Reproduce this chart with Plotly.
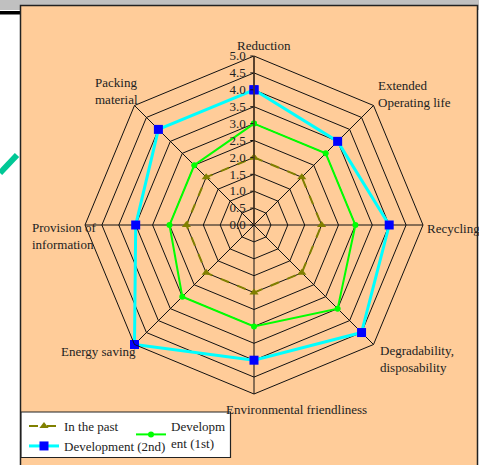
import plotly.graph_objects as go

W, H = 479, 465

categories = ["Reduction", "Extended Operating life", "Recycling",
              "Degradability, disposability", "Environmental friendliness",
              "Energy saving", "Provision of information", "Packing material"]
label_text = ["Reduction", "Extended<br>Operating life", "Recycling",
              "Degradability,<br>disposability", "Environmental friendliness",
              "Energy saving", "Provision of<br>information", "Packing<br>material"]
past = [2.0, 2.0, 2.0, 2.0, 2.0, 2.0, 2.0, 2.0]
dev1 = [3.0, 3.0, 3.0, 3.5, 3.0, 3.0, 2.5, 2.5]
dev2 = [4.0, 3.5, 4.0, 4.5, 4.0, 5.0, 3.5, 4.0]
radial_ticks = [0.0, 0.5, 1.0, 1.5, 2.0, 2.5, 3.0, 3.5, 4.0, 4.5, 5.0]

FONT = "Liberation Serif"


def px(x):
    return x / W


def py(y):
    return 1 - y / H


def closed(v):
    return list(v) + [v[0]]


theta = closed(categories)

fig = go.Figure()
fig.add_trace(go.Scatterpolar(
    r=closed(past), theta=theta, name="In the past", mode="lines+markers",
    line=dict(color="#808000", width=2, dash="dash"),
    marker=dict(symbol="triangle-up", size=8, color="#808000"),
    legend="legend"))
fig.add_trace(go.Scatterpolar(
    r=closed(dev1), theta=theta, name="Developm<br>ent (1st)", mode="lines+markers",
    line=dict(color="#00ff00", width=2),
    marker=dict(symbol="circle", size=6, color="#00ff00"),
    legend="legend"))
fig.add_trace(go.Scatterpolar(
    r=closed(dev2), theta=theta, name="Development (2nd)", mode="lines+markers",
    line=dict(color="#00ffff", width=3),
    marker=dict(symbol="square", size=9, color="#0000ff"),
    legend="legend2"))

cx, cy, R = 254, 225, 169

shapes = [
    dict(type="rect", xref="paper", yref="paper", x0=0, x1=1, y0=py(10), y1=1,
         fillcolor="#c0c0c0", line=dict(width=0), layer="below"),
    dict(type="rect", xref="paper", yref="paper", x0=0, x1=px(21), y0=py(14.5), y1=py(11),
         fillcolor="#000000", line=dict(width=0), layer="below"),
    dict(type="rect", xref="paper", yref="paper", x0=px(20.5), x1=px(477.5), y0=py(470), y1=py(5.5),
         fillcolor="#ffcc99", line=dict(color="#222222", width=1.5), layer="below"),
    dict(type="line", xref="paper", yref="paper", x0=px(0), y0=py(173), x1=px(17), y1=py(155),
         line=dict(color="#00c896", width=6), layer="below"),
    dict(type="rect", xref="paper", yref="paper", x0=px(21), x1=px(230.5), y0=py(457.5), y1=py(412),
         fillcolor="#ffffff", line=dict(color="#222222", width=1.2), layer="above"),
]

ann_specs = [
    (263.5, 46, "center", "middle", "center"),
    (376, 94, "left", "middle", "left"),
    (425, 229, "left", "middle", "left"),
    (378, 359, "left", "middle", "left"),
    (296, 409, "center", "middle", "center"),
    (137.5, 351, "right", "middle", "right"),
    (30, 236, "left", "middle", "left"),
    (93, 91, "left", "middle", "left"),
]
annotations = []
for txt, (x, y, xa, ya, al) in zip(label_text, ann_specs):
    annotations.append(dict(text=txt, x=px(x), y=py(y), xref="paper", yref="paper",
                            xanchor=xa, yanchor=ya, align=al, showarrow=False,
                            font=dict(family=FONT, size=13, color="#222222")))

fig.update_layout(
    width=W, height=H,
    margin=dict(l=0, r=0, t=0, b=0),
    paper_bgcolor="#ffffff",
    plot_bgcolor="rgba(0,0,0,0)",
    font=dict(family=FONT, size=13, color="#222222"),
    shapes=shapes,
    annotations=annotations,
    polar=dict(
        domain=dict(x=[px(cx - R), px(cx + R)], y=[(H - cy - R) / H, (H - cy + R) / H]),
        bgcolor="rgba(0,0,0,0)",
        gridshape="linear",
        angularaxis=dict(
            categoryorder="array", categoryarray=categories,
            rotation=90, direction="clockwise",
            showticklabels=False, ticks="",
            showline=True, linecolor="#111111", linewidth=1,
            showgrid=True, gridcolor="#111111", gridwidth=1,
        ),
        radialaxis=dict(
            range=[0, 5], tickvals=radial_ticks,
            ticktext=[f"{v:.1f}" for v in radial_ticks],
            angle=90, tickangle=90, side="counterclockwise",
            showline=True, linecolor="#4a3520", linewidth=1.5,
            showgrid=True, gridcolor="#111111", gridwidth=1,
            ticks="outside", ticklen=3, tickcolor="#111111",
            tickfont=dict(family=FONT, size=13, color="#222222"),
        ),
    ),
    legend=dict(
        orientation="h", x=px(24), y=py(411), xanchor="left", yanchor="top",
        bgcolor="rgba(0,0,0,0)", borderwidth=0,
        font=dict(family=FONT, size=13, color="#222222"),
        itemwidth=30, tracegroupgap=0,
        entrywidth=62, entrywidthmode="pixels",
    ),
    legend2=dict(
        orientation="h", x=px(24), y=py(431), xanchor="left", yanchor="top",
        bgcolor="rgba(0,0,0,0)", borderwidth=0,
        font=dict(family=FONT, size=13, color="#222222"),
        itemwidth=30,
    ),
    showlegend=True,
)

fig.write_html("out.html",
               config={"displayModeBar": False},
               post_script="document.body.style.margin='0';document.body.style.padding='0';"
                           "document.documentElement.style.overflow='hidden';")
